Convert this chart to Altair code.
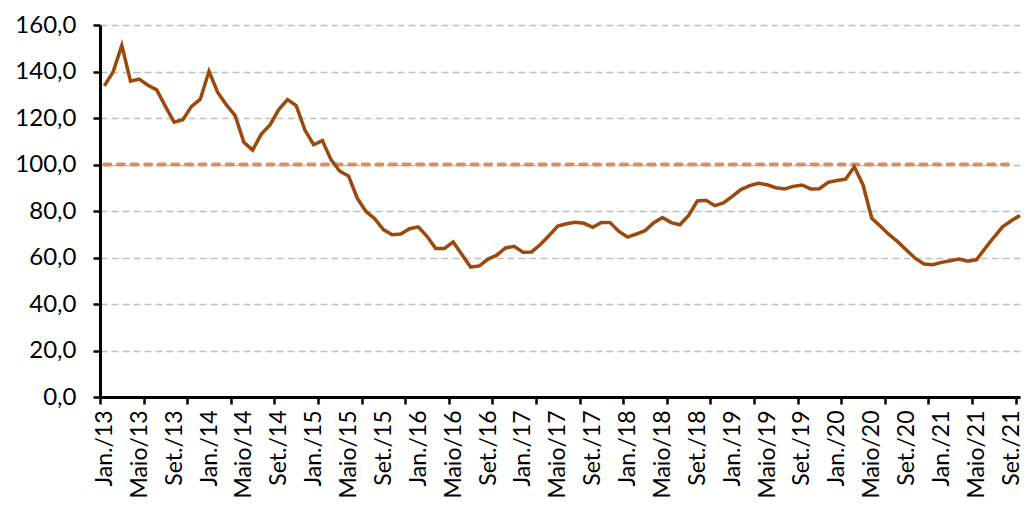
import altair as alt
import pandas as pd

# monthly index, Jan/13 .. Oct/21
valores = [133.8, 139.8, 151.2, 135.8, 136.7, 134.1, 132.1, 125.0, 118.2, 119.3, 125.0, 128.1,
           140.1, 131.0, 125.6, 121.0, 109.6, 106.2, 113.1, 117.0, 123.6, 127.9, 125.3, 114.8,
           108.5, 110.3, 102.0, 97.1, 95.1, 85.5, 79.8, 76.7, 72.0, 69.8, 70.1, 72.4,
           73.2, 69.1, 63.9, 63.9, 66.7, 61.3, 55.9, 56.4, 59.3, 61.0, 64.1, 64.8,
           62.3, 62.4, 65.6, 69.5, 73.5, 74.5, 75.2, 74.7, 73.0, 75.1, 75.0, 71.2,
           68.8, 70.1, 71.5, 75.0, 77.2, 75.0, 74.1, 78.1, 84.3, 84.6, 82.3, 83.5,
           86.3, 89.2, 90.9, 91.9, 91.3, 90.0, 89.5, 90.6, 91.2, 89.5, 89.6, 92.3,
           93.1, 93.7, 99.0, 91.2, 76.9, 73.4, 69.8, 66.7, 63.1, 59.6, 57.2, 56.9,
           57.9, 58.6, 59.3, 58.4, 59.0, 63.9, 68.7, 73.2, 75.8, 78.1]

referencia = 100.0
n_ref = 105  # reference series runs Jan/13 .. Sep/21

rotulos = ["Jan./13", "Maio/13", "Set./13", "Jan./14", "Maio/14", "Set./14",
           "Jan./15", "Maio/15", "Set./15", "Jan./16", "Maio/16", "Set./16",
           "Jan./17", "Maio/17", "Set./17", "Jan./18", "Maio/18", "Set./18",
           "Jan./19", "Maio/19", "Set./19", "Jan./20", "Maio/20", "Set./20",
           "Jan./21", "Maio/21", "Set./21"]

y_ticks = [0, 20, 40, 60, 80, 100, 120, 140, 160]

df = pd.DataFrame({"mes": range(len(valores)), "valor": valores})
ref = pd.DataFrame({"mes": range(n_ref), "valor": [referencia] * n_ref})

# labels every 4 months, tick marks every 5 months (between categories)
pos_rotulos = [4 * k for k in range(len(rotulos))]
pos_marcas = [-0.5 + 5 * k for k in range(22)]
label_expr = "[" + ",".join(f"'{r}'" for r in rotulos) + "][round(datum.value / 4)]"

x_scale = alt.Scale(domain=[-0.5, 105], nice=False, zero=False)
y_scale = alt.Scale(domain=[0, 160], nice=False)

eixo_y = alt.Axis(values=y_ticks, labelExpr="replace(format(datum.value, '.1f'), '.', ',')",
                  title=None, grid=True, gridColor="#c0c0c0", gridDash=[7, 4], gridWidth=1.3,
                  tickSize=7, tickWidth=2.5, tickColor="black",
                  domainWidth=3, domainColor="black", labelPadding=17, labelFontSize=24)

linha_ref = alt.Chart(ref).mark_line(
    color="#D9905F", strokeWidth=4, strokeDash=[6, 7.6], strokeCap="round"
).encode(
    x=alt.X("mes:Q", scale=x_scale,
            axis=alt.Axis(values=pos_marcas, labels=False, tickSize=7, tickWidth=2.5,
                          tickColor="black", domain=False, grid=False, title=None,
                          orient="bottom")),
    y=alt.Y("valor:Q", scale=y_scale, axis=eixo_y),
)

serie = alt.Chart(df).mark_line(color="#9B4A0D", strokeWidth=3.5).encode(
    x=alt.X("mes:Q", scale=x_scale,
            axis=alt.Axis(values=pos_rotulos, labelExpr=label_expr, labelAngle=-90,
                          ticks=False, tickSize=0, domainWidth=3, domainColor="black",
                          grid=False, title=None, labelPadding=13, labelOverlap=False,
                          labelFlush=False, labelFontSize=23, orient="bottom")),
    y=alt.Y("valor:Q", scale=y_scale, axis=eixo_y),
)

chart = alt.layer(linha_ref, serie).resolve_axis(x="independent").properties(
    width=920,
    height=372,
    autosize=alt.AutoSizeParams(type="none"),
    padding={"left": 92, "top": 17, "right": 5, "bottom": 107},
).configure_view(stroke=None).configure_axis(
    labelFont="Lato", labelColor="black"
)

chart.save("out.html", embed_options={"renderer": "svg", "actions": False})
